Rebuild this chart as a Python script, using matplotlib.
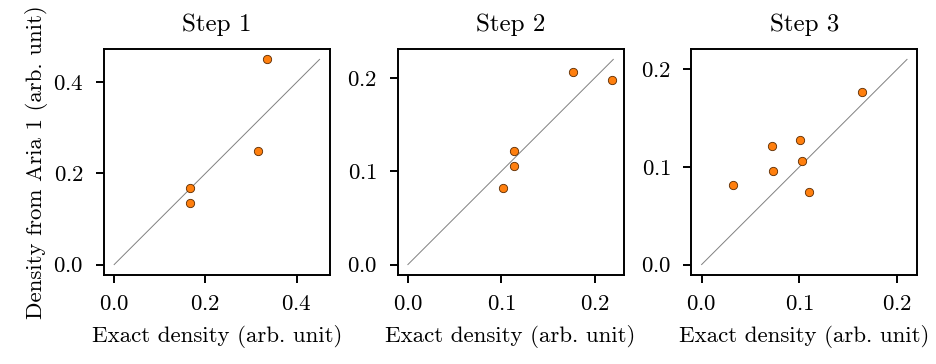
import numpy as np
import matplotlib
matplotlib.use("Agg")
import matplotlib.pyplot as plt

plt.rcParams['font.family'] = 'serif'
plt.rcParams['font.serif'] = ['cmr10']
plt.rcParams['mathtext.fontset'] = 'cm'
plt.rcParams['axes.formatter.use_mathtext'] = True
plt.rcParams['font.size'] = 16.5
plt.rcParams['axes.linewidth'] = 1.4
plt.rcParams['xtick.major.width'] = 1.4
plt.rcParams['ytick.major.width'] = 1.4
plt.rcParams['xtick.major.size'] = 5.5
plt.rcParams['ytick.major.size'] = 5.5
plt.rcParams['xtick.major.pad'] = 9
plt.rcParams['ytick.major.pad'] = 9

TITLES = ["Step 1", "Step 2", "Step 3"]

# Exact density vs density from Aria 1, per step
step1_exact = [0.335, 0.315, 0.166, 0.166]
step1_aria = [0.450, 0.248, 0.167, 0.135]

step2_exact = [0.177, 0.219, 0.114, 0.1135, 0.102]
step2_aria = [0.206, 0.198, 0.122, 0.106, 0.082]

step3_exact = [0.164, 0.101, 0.072, 0.103, 0.073, 0.032, 0.110]
step3_aria = [0.177, 0.128, 0.121, 0.106, 0.096, 0.081, 0.074]

# extent of the y = x reference line in each panel
DIAG_MAX = [0.45, 0.22, 0.21]

EXACT = [step1_exact, step2_exact, step3_exact]
ARIA = [step1_aria, step2_aria, step3_aria]
X_TICKS = [[0.0, 0.2, 0.4], [0.0, 0.1, 0.2], [0.0, 0.1, 0.2]]
Y_TICKS = [[0.0, 0.2, 0.4], [0.0, 0.1, 0.2], [0.0, 0.1, 0.2]]

fig, axes = plt.subplots(1, 3, figsize=(9.36, 3.64), dpi=100)
fig.subplots_adjust(left=0.111, right=0.980, bottom=0.245, top=0.865, wspace=0.30)

for i, ax in enumerate(axes):
    m = DIAG_MAX[i]
    ax.plot([0, m], [0, m], color='gray', linewidth=0.7)
    ax.scatter(EXACT[i], ARIA[i], s=36, color='#ff7f0e', edgecolors='#5a2a00',
               linewidths=0.6, zorder=3)
    ax.set_xlim(-0.05 * m, 1.05 * m)
    ax.set_ylim(-0.05 * m, 1.05 * m)
    ax.set_xticks(X_TICKS[i])
    ax.set_yticks(Y_TICKS[i])
    ax.set_title(TITLES[i], fontsize=18, pad=13)
    ax.set_xlabel("Exact density (arb. unit)", labelpad=7.5)

axes[0].set_ylabel("Density from Aria 1 (arb. unit)")

fig.savefig("out.png", dpi=100)
